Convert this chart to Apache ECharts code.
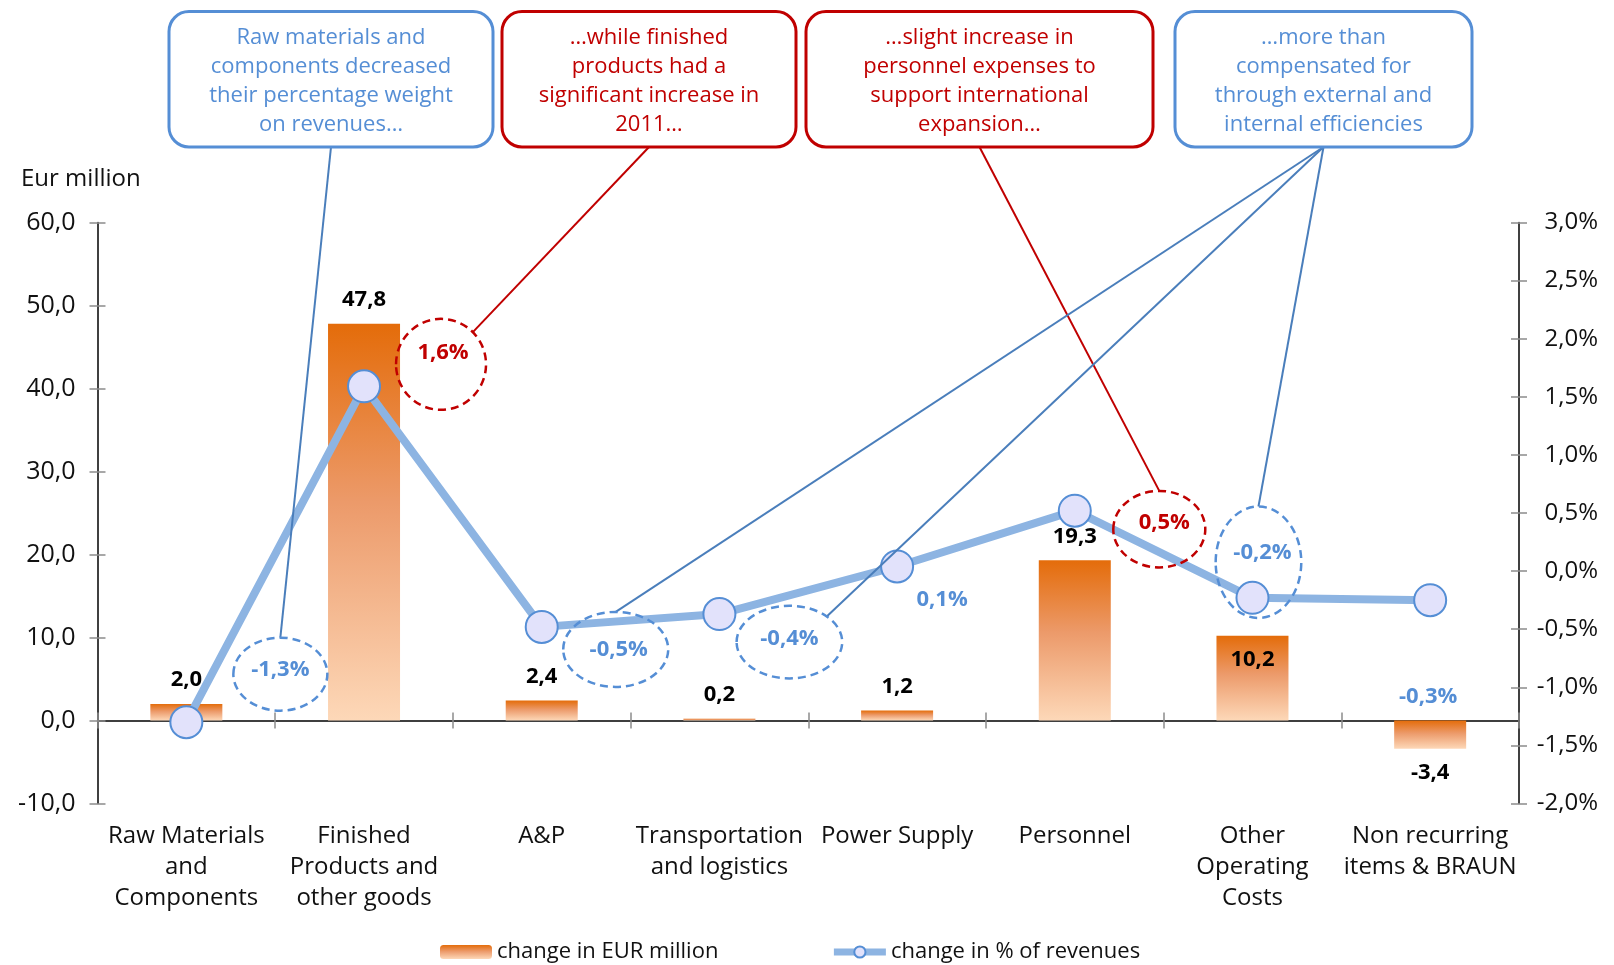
<!DOCTYPE html>
<html><head><meta charset="utf-8">
<script src="https://cdn.jsdelivr.net/npm/echarts@6/dist/echarts.min.js"></script>
<style>html,body{margin:0;padding:0;background:#fff}#c{width:1614px;height:965px}</style>
</head><body><div id="c"></div>
<script>
// ---------- data ----------
const categories = [
  'Raw Materials\nand\nComponents',
  'Finished\nProducts and\nother goods',
  'A&P',
  'Transportation\nand logistics',
  'Power Supply',
  'Personnel',
  'Other\nOperating\nCosts',
  'Non recurring\nitems & BRAUN'
];
const eurChange = [2.0, 47.8, 2.4, 0.2, 1.2, 19.3, 10.2, -3.4];
const pctChange = [-1.3, 1.59, -0.48, -0.37, 0.04, 0.52, -0.23, -0.25];
const pctLabels = ['-1,3%', '1,6%', '-0,5%', '-0,4%', '0,1%', '0,5%', '-0,2%', '-0,3%'];
const seriesNames = ['change in EUR million', 'change in % of revenues'];
const yLeftName = 'Eur million';
const calloutTexts = [
  'Raw materials and\ncomponents decreased\ntheir percentage weight\non revenues…',
  '…while finished\nproducts had a\nsignificant increase in\n2011…',
  '…slight increase in\npersonnel expenses to\nsupport international\nexpansion…',
  '…more than\ncompensated for\nthrough external and\ninternal efficiencies'
];

// ---------- styles / layout ----------
const FONT = '"Open Sans", "Noto Sans", sans-serif';
const BLUE = '#558ED5', RED = '#C00000', LINKBLUE = '#4A7EBB';
const barLabelPos = ['top','top','top','top','top','top','insideTop','bottom'];
// annotation layout per point: ellipse offset from marker, radii, text offset, colour
const annot = [
  {dx: 94, dy: -48, rx: 47, ry: 36.5, tx: 0, ty: -4, c: BLUE},
  {dx: 77, dy: -22, rx: 45, ry: 45.5, tx: 2, ty: -12, c: RED},
  {dx: 74, dy: 22.5, rx: 52.5, ry: 37.5, tx: 3, ty: 0, c: BLUE},
  {dx: 70, dy: 28, rx: 52.8, ry: 36.3, tx: 0, ty: -3, c: BLUE},
  {dx: 45, dy: 33, rx: 0, ry: 0, tx: 0, ty: 0, c: BLUE},
  {dx: 84.5, dy: 18.5, rx: 46, ry: 38.3, tx: 5, ty: -6, c: RED},
  {dx: 6, dy: -35.6, rx: 42.8, ry: 55.7, tx: 4, ty: -9, c: BLUE},
  {dx: -2, dy: 97, rx: 0, ry: 0, tx: 0, ty: 0, c: BLUE}
];
const boxes = [
  {x: 169, w: 324, c: BLUE, links: [{i: 0, ang: 90}]},
  {x: 502, w: 294, c: RED, links: [{i: 1, ang: 45}]},
  {x: 806, w: 347, c: RED, links: [{i: 5, ang: 90}]},
  {x: 1175, w: 297, c: BLUE, links: [{i: 2, ang: 90}, {i: 3, ang: 45}, {i: 6, ang: 90}]}
];
const BOX_Y = 11.5, BOX_H = 135.5;

const fmt1 = v => v.toFixed(1).replace('.', ',');
const chart = echarts.init(document.getElementById('c'));

const barGradient = new echarts.graphic.LinearGradient(0, 0, 0, 1, [
  {offset: 0, color: '#E46C0A'},
  {offset: 0.45, color: '#EC9A6A'},
  {offset: 1, color: '#FDD8B8'}
]);

const axisLabelStyle = {fontFamily: FONT, fontSize: 24, color: '#111'};
const tickStyle = {lineStyle: {color: '#8c8c8c', width: 1.5}};

chart.setOption({
  animation: false,
  title: {text: yLeftName, left: 16, top: 162, textStyle: {fontFamily: FONT, fontSize: 24, fontWeight: 'normal', color: '#111'}},
  grid: {left: 97.5, right: 95, top: 222.5, bottom: 161.5, containLabel: false},
  legend: {
    left: 435, top: 936, itemWidth: 52, itemHeight: 14, itemGap: 112,
    textStyle: {fontFamily: FONT, fontSize: 22, color: '#111'},
    lineStyle: {width: 7, color: '#8DB4E2'},
    data: seriesNames
  },
  xAxis: [
    {type: 'category', data: categories, position: 'bottom',
     axisLine: {show: false, onZero: false}, axisTick: {show: false},
     axisLabel: Object.assign({margin: 17, lineHeight: 31, interval: 0}, axisLabelStyle)},
    {type: 'category', data: categories, position: 'bottom',
     axisLine: {show: true, onZero: true, onZeroAxisIndex: 0, lineStyle: {color: '#000', width: 1.5}},
     axisTick: Object.assign({show: true, length: 8, inside: false}, tickStyle), axisLabel: {show: false}},
    {type: 'category', data: categories, position: 'bottom',
     axisLine: {show: false, onZero: true, onZeroAxisIndex: 0},
     axisTick: Object.assign({show: true, length: 8, inside: true}, tickStyle), axisLabel: {show: false}}
  ],
  yAxis: [
    {type: 'value', position: 'left', min: -10, max: 60, interval: 10, splitLine: {show: false},
     axisLine: {show: true, lineStyle: {color: '#000', width: 1.5}},
     axisTick: Object.assign({show: true, length: 8}, tickStyle),
     axisLabel: Object.assign({margin: 22, formatter: v => fmt1(v)}, axisLabelStyle, {fontSize: 25})},
    {type: 'value', position: 'right', min: -2, max: 3, interval: 0.5, splitLine: {show: false},
     axisLine: {show: true, lineStyle: {color: '#000', width: 1.5}},
     axisTick: Object.assign({show: true, length: 8}, tickStyle),
     axisLabel: Object.assign({margin: 79, align: 'right', formatter: v => fmt1(v) + '%'}, axisLabelStyle)},
    {type: 'value', position: 'left', min: -10, max: 60, interval: 10, splitLine: {show: false},
     axisLine: {show: false}, axisTick: Object.assign({show: true, length: 8, inside: true}, tickStyle),
     axisLabel: {show: false}},
    {type: 'value', position: 'right', min: -2, max: 3, interval: 0.5, splitLine: {show: false},
     axisLine: {show: false}, axisTick: Object.assign({show: true, length: 8, inside: true}, tickStyle),
     axisLabel: {show: false}}
  ],
  series: [
    {
      name: seriesNames[0], type: 'bar', xAxisIndex: 0, yAxisIndex: 0, barWidth: 72, z: 2,
      itemStyle: {color: barGradient},
      data: eurChange.map((v, i) => ({value: v, label: {position: barLabelPos[i]}})),
      label: {show: true, distance: 13, fontFamily: FONT, fontSize: 22, fontWeight: 'bold', color: '#000',
              formatter: p => fmt1(p.value)}
    },
    {
      name: seriesNames[1], type: 'line', xAxisIndex: 0, yAxisIndex: 1, z: 3,
      data: pctChange, symbol: 'circle', symbolSize: 32,
      lineStyle: {color: '#8DB4E2', width: 8},
      itemStyle: {color: '#E2E2FB', borderColor: BLUE, borderWidth: 2}
    }
  ]
});

// ---------- annotations tied to the line points ----------
function drawAnnotations() {
  const els = [];
  const centers = pctChange.map((v, i) => {
    const p = chart.convertToPixel({seriesIndex: 1}, [i, v]);
    const a = annot[i];
    return {x: p[0] + a.dx, y: p[1] + a.dy, a: a};
  });
  // connectors
  boxes.forEach(b => {
    const ax = b.x + b.w / 2, ay = BOX_Y + BOX_H;
    b.links.forEach(l => {
      const c = centers[l.i];
      const rad = l.ang * Math.PI / 180;
      const tx = c.x + c.a.rx * Math.cos(rad), ty = c.y - c.a.ry * Math.sin(rad);
      els.push({type: 'line', z: 100, shape: {x1: ax, y1: ay, x2: tx, y2: ty},
        style: {stroke: b.c === RED ? RED : LINKBLUE, lineWidth: 2}});
    });
  });
  // ellipses + labels
  centers.forEach((c, i) => {
    if (c.a.rx > 0) {
      els.push({type: 'ellipse', z: 101, shape: {cx: c.x, cy: c.y, rx: c.a.rx, ry: c.a.ry},
        style: {fill: 'transparent', stroke: c.a.c, lineWidth: 2.5, lineDash: [8, 5]}});
    }
    els.push({type: 'text', z: 102, style: {text: pctLabels[i], x: c.x + c.a.tx, y: c.y + c.a.ty,
      align: 'center', verticalAlign: 'middle', fill: c.a.c, fontFamily: FONT, fontSize: 22, fontWeight: 'bold'}});
  });
  // callout boxes
  boxes.forEach((b, k) => {
    els.push({type: 'rect', z: 103, shape: {x: b.x, y: BOX_Y, width: b.w, height: BOX_H, r: 20},
      style: {fill: '#fff', stroke: b.c, lineWidth: 3}});
    els.push({type: 'text', z: 104, style: {text: calloutTexts[k], x: b.x + b.w / 2, y: BOX_Y + BOX_H / 2 + 2,
      align: 'center', verticalAlign: 'middle', lineHeight: 29, fill: b.c, fontFamily: FONT, fontSize: 22}});
  });
  chart.setOption({graphic: {elements: els}});
}
drawAnnotations();
</script>
</body></html>
